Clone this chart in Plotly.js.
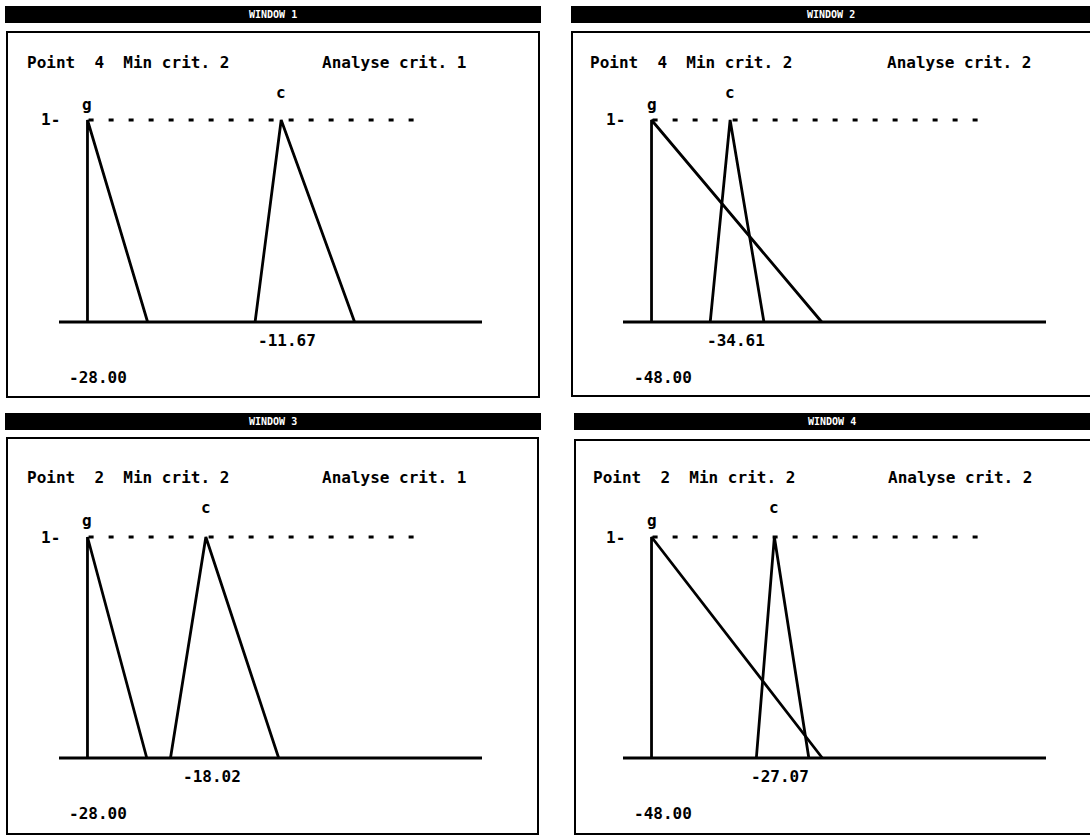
<!DOCTYPE html>
<html>
<head>
<meta charset="utf-8">
<script src="https://cdn.plot.ly/plotly-3.0.1.min.js"></script>
<style>
  html, body { margin: 0; padding: 0; background: #fff; }
  #chart { width: 1090px; height: 837px; }
</style>
</head>
<body>
<div id="chart"></div>
<script>
// Window captions and header fields
const windowNames = ['WINDOW 1', 'WINDOW 2', 'WINDOW 3', 'WINDOW 4'];
const pointNo = [4, 4, 2, 2];
const minCrit = [2, 2, 2, 2];
const analyseCrit = [1, 2, 1, 2];

// Membership function "g": vertical edge at the origin value, falling to gFoot
const originValue = [-28.00, -48.00, -28.00, -48.00];
const gFoot = [-22.93, -19.0, -23.0, -18.9];
const gMembership = [0, 1, 0];

// Membership function "c": triangle (left foot, peak, right foot)
const cLeft = [-13.87, -38.0, -21.0, -30.14];
const cPeak = [-11.67, -34.61, -18.02, -27.07];
const cRight = [-5.48, -28.85, -11.88, -21.2];
const cMembership = [0, 1, 0];

// ---- layout helpers (pixel -> paper) ----
const W = 1090, H = 837;
const fx = px => px / W;
const fy = py => 1 - py / H;

// Per-window geometry in page pixels
const geom = [
  { bar: [5, 541, 6, 23],    frame: [7, 539, 32, 397],   xd: [59, 482],   yd: [342.2, 79.6], textY: 62,  labelC: 92,  labelG: 105, fieldX: 25,  analyseX: 320 },
  { bar: [571, 1092, 6, 23], frame: [572, 1093, 32, 396], xd: [623, 1046], yd: [342.2, 79.6], textY: 62,  labelC: 92,  labelG: 105, fieldX: 588, analyseX: 885 },
  { bar: [5, 541, 413, 430], frame: [7, 538, 438, 834],  xd: [59, 482],   yd: [780.1, 492.8], textY: 477, labelC: 507, labelG: 520, fieldX: 25,  analyseX: 320 },
  { bar: [574, 1092, 413, 430], frame: [575, 1093, 440, 834], xd: [623, 1046], yd: [780.1, 492.8], textY: 477, labelC: 507, labelG: 520, fieldX: 591, analyseX: 886 }
];
// value-axis ranges: g origin sits 28.5px inside the plotting strip
const xRanges = [[-30.40, 5.26], [-52.86, 19.21], [-30.40, 5.26], [-52.86, 19.21]];

const FONT = 'DejaVu Sans Mono';
const textFont = { family: FONT, size: 16, color: '#000', weight: 'bold' };

const traces = [];
const shapes = [];
const annotations = [];
const layout = {
  width: W, height: H,
  margin: { l: 0, r: 0, t: 0, b: 0 },
  paper_bgcolor: '#fff', plot_bgcolor: 'rgba(0,0,0,0)',
  showlegend: false,
  shapes: shapes,
  annotations: annotations
};

for (let i = 0; i < 4; i++) {
  const n = i + 1;
  const sfx = n === 1 ? '' : String(n);
  const xa = 'x' + sfx, ya = 'y' + sfx;
  const g = geom[i];

  layout['xaxis' + sfx] = {
    domain: [fx(g.xd[0]), fx(g.xd[1])],
    range: xRanges[i], visible: false, fixedrange: true, anchor: ya
  };
  layout['yaxis' + sfx] = {
    domain: [fy(g.yd[0]), fy(g.yd[1])],
    range: [-0.1, 1.2], visible: false, fixedrange: true, anchor: xa
  };

  // g: vertical edge then falling slope
  traces.push({
    type: 'scatter', mode: 'lines', xaxis: xa, yaxis: ya,
    x: [originValue[i], originValue[i], gFoot[i]], y: gMembership,
    line: { color: '#000', width: 2.8 }, hoverinfo: 'skip'
  });
  // c: triangle
  traces.push({
    type: 'scatter', mode: 'lines', xaxis: xa, yaxis: ya,
    x: [cLeft[i], cPeak[i], cRight[i]], y: cMembership,
    line: { color: '#000', width: 2.8 }, hoverinfo: 'skip'
  });

  // caption bar
  shapes.push({
    type: 'rect', xref: 'paper', yref: 'paper', layer: 'below',
    x0: fx(g.bar[0]), x1: fx(g.bar[1]), y0: fy(g.bar[3]), y1: fy(g.bar[2]),
    fillcolor: '#000', line: { width: 0 }
  });
  annotations.push({
    xref: 'paper', yref: 'paper',
    x: fx((g.bar[0] + Math.min(g.bar[1], W)) / 2), y: fy((g.bar[2] + g.bar[3]) / 2),
    text: windowNames[i], showarrow: false, xanchor: 'center', yanchor: 'middle',
    font: { family: FONT, size: 10, color: '#fff', weight: 'bold' }
  });
  // window frame
  shapes.push({
    type: 'rect', xref: 'paper', yref: 'paper', layer: 'below',
    x0: fx(g.frame[0]), x1: fx(g.frame[1]), y0: fy(g.frame[3]), y1: fy(g.frame[2]),
    fillcolor: 'rgba(0,0,0,0)', line: { color: '#000', width: 2 }
  });

  // header fields
  annotations.push({
    xref: 'paper', yref: 'paper', x: fx(g.fieldX), y: fy(g.textY),
    text: 'Point  ' + pointNo[i] + '  Min crit. ' + minCrit[i],
    showarrow: false, xanchor: 'left', yanchor: 'middle', font: textFont
  });
  annotations.push({
    xref: 'paper', yref: 'paper', x: fx(g.analyseX), y: fy(g.textY),
    text: 'Analyse crit. ' + analyseCrit[i],
    showarrow: false, xanchor: 'left', yanchor: 'middle', font: textFont
  });

  // baseline (membership 0)
  shapes.push({
    type: 'line', xref: xa + ' domain', yref: ya,
    x0: 0, x1: 1, y0: 0, y1: 0,
    line: { color: '#000', width: 3 }
  });
  // dashed reference at membership 1
  shapes.push({
    type: 'line', xref: xa + ' domain', yref: ya,
    x0: 0.07, x1: 0.87, y0: 1, y1: 1,
    line: { color: '#000', width: 3, dash: '5px,15px' }
  });

  // "1-" level marker
  annotations.push({
    xref: xa, yref: ya, x: originValue[i], y: 1, xshift: -25,
    text: '1-', showarrow: false, xanchor: 'right', yanchor: 'middle', font: textFont
  });
  // function names above the peaks
  annotations.push({
    xref: xa, yref: 'paper', x: originValue[i], y: fy(g.labelG),
    text: 'g', showarrow: false, xanchor: 'center', yanchor: 'middle', font: textFont
  });
  annotations.push({
    xref: xa, yref: 'paper', x: cPeak[i], y: fy(g.labelC),
    text: 'c', showarrow: false, xanchor: 'center', yanchor: 'middle', font: textFont
  });

  // value labels under the baseline
  annotations.push({
    xref: xa, yref: ya, x: cPeak[i], y: 0, xshift: -25, yshift: -18,
    text: cPeak[i].toFixed(2), showarrow: false, xanchor: 'left', yanchor: 'middle', font: textFont
  });
  annotations.push({
    xref: xa, yref: ya, x: originValue[i], y: 0, xshift: -20, yshift: -55,
    text: originValue[i].toFixed(2), showarrow: false, xanchor: 'left', yanchor: 'middle', font: textFont
  });
}

Plotly.newPlot('chart', traces, layout, { staticPlot: true, displayModeBar: false });
</script>
</body>
</html>
